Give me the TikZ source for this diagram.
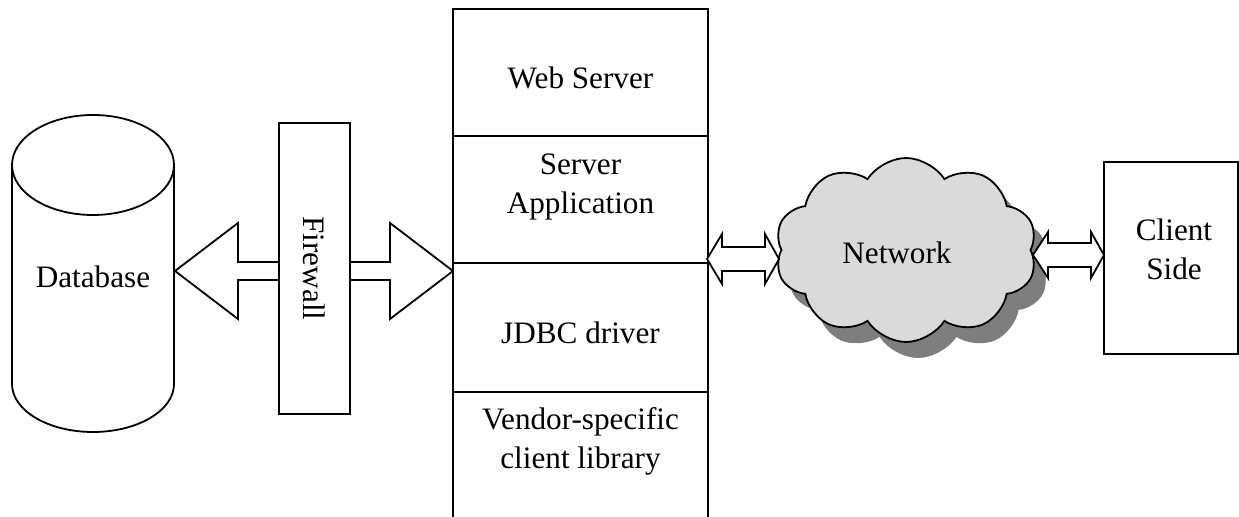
\documentclass[tikz,border=0pt]{standalone}
\usepackage{fontspec}
\setmainfont{Liberation Serif}
\usetikzlibrary{shapes.symbols}
\definecolor{cloudlight}{HTML}{DADADA}
\definecolor{cloudshade}{HTML}{7E7E7E}
\begin{document}
\begin{tikzpicture}[x=0.5pt,y=-0.5pt,line width=0.9pt,
  font=\fontsize{15.6}{19.5}\selectfont,
  box/.style={draw,fill=white,inner sep=0pt},
  txt/.style={align=center,inner sep=0pt},
  blockarrow/.style={draw,fill=white,line join=miter},
  netcloud/.style={cloud,cloud puffs=10,cloud puff arc=115,aspect=1.45,
    minimum width=131pt,minimum height=92pt,inner sep=0pt}]
\useasboundingbox (0,0) rectangle (1239,517);

% database cylinder
\draw[fill=white] (12,165) -- (12,384)
  arc[start angle=180,end angle=0,x radius=81,y radius=48] -- (174,165);
\draw (93,165) ellipse[x radius=81,y radius=50];
\node[txt] (db) at (93,277) {Database};

% block arrows through the firewall
\draw[blockarrow] (279,262) -- (238,262) -- (238,223) -- (175,271)
  -- (238,319) -- (238,280) -- (279,280);
\draw[blockarrow] (350,262) -- (390,262) -- (390,223) -- (453,271)
  -- (390,319) -- (390,280) -- (350,280);

% firewall
\node[box,rotate=-90,minimum width=145.5pt,minimum height=35.5pt]
  (fw) at (314.5,268.5) {Firewall};

% server stack
\node[box,minimum width=127.5pt,minimum height=63.5pt] (web) at (580.5,72.5) {};
\node[box,minimum width=127.5pt,minimum height=63.5pt] (app) at (580.5,199.5) {};
\node[box,minimum width=127.5pt,minimum height=64.5pt] (jdbc) at (580.5,327.5) {};
\draw (453,392) -- (453,530) (708,392) -- (708,530);
\coordinate (vendor) at (580.5,455);
\node[txt] (webt) at (580.5,78) {Web Server};
\node[txt] (appt) at (580.5,187) {Server\\Application};
\node[txt] (jdbct) at (580.5,332.5) {JDBC driver};
\node[txt] (vendort) at (580.5,441) {Vendor-specific\\client library};

% network cloud with its shadow
\node[netcloud,fill=cloudshade] (netshadow) at (918,266) {};
\node[netcloud,draw,fill=cloudlight] (net) at (906,250) {};
\node[txt] (nett) at (897,253) {Network};

% client side
\node[box,minimum width=67pt,minimum height=96pt] (client) at (1171,258) {};
\node[txt] (clientt) at (1174,249) {Client\\Side};

% double arrows
\draw[blockarrow] (707,259) -- (722,234) -- (722,247) -- (765,247)
  -- (765,234) -- (779,259) -- (765,284) -- (765,271) -- (722,271)
  -- (722,284) -- cycle;
\draw[blockarrow] (1033,255) -- (1048,232) -- (1048,243) -- (1091,243)
  -- (1091,232) -- (1104,255) -- (1091,278) -- (1091,267) -- (1048,267)
  -- (1048,278) -- cycle;
\end{tikzpicture}
\end{document}
